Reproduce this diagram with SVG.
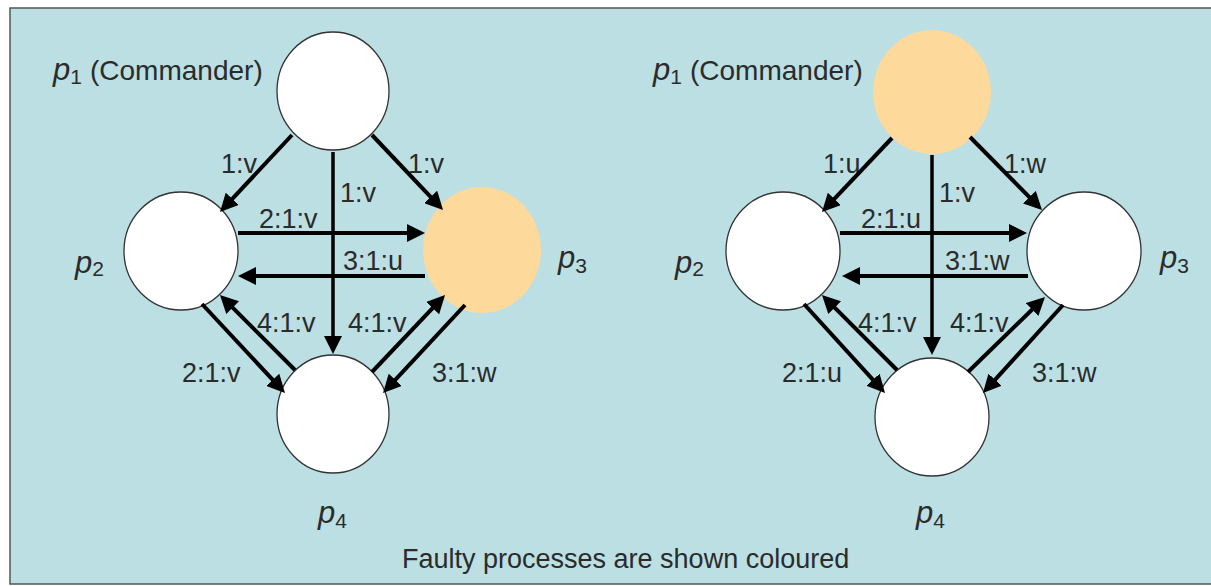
<svg xmlns="http://www.w3.org/2000/svg" width="1211" height="586" viewBox="0 0 1211 586">
  <style>
    .node { fill: #ffffff; stroke: #333333; stroke-width: 1.3; }
    .faulty { fill: #fdd99b; stroke: none; }
    .lbl { font-family: "Liberation Sans", Arial, sans-serif; font-size: 27px; fill: #2b2b2b; }
    .pname { font-family: "Liberation Sans", Arial, sans-serif; fill: #2b2b2b; }
    .conn { stroke: #000000; stroke-width: 4; fill: none; marker-end: url(#arr); }
    .vconn { stroke: #000000; stroke-width: 3.5; fill: none; marker-end: url(#arr); }
  </style>
  <defs>
    <marker id="arr" markerUnits="userSpaceOnUse" markerWidth="18" markerHeight="18" refX="12" refY="9" orient="auto">
      <path d="M0,0 L18,9 L0,18 z" fill="#000000"/>
    </marker>
  </defs>

  <rect x="0" y="0" width="1211" height="586" fill="#ffffff"/>
  <rect id="frame" x="10" y="8" width="1215" height="576" fill="#bbdfe3" stroke="#555555" stroke-width="1.5"/>

  <!-- Left diagram nodes -->
  <g id="L-p1"><ellipse class="node" cx="333" cy="91" rx="56" ry="59"/>
    <text class="pname" x="53" y="80"><tspan font-style="italic" font-size="31">p</tspan><tspan font-size="21" dy="4">1</tspan></text>
    <text class="pname" x="90" y="80" font-size="28">(Commander)</text>
  </g>
  <g id="L-p2"><ellipse class="node" cx="181" cy="251" rx="57" ry="59"/>
    <text class="pname" x="75" y="273"><tspan font-style="italic" font-size="31">p</tspan><tspan font-size="21" dy="3">2</tspan></text>
  </g>
  <g id="L-p3"><ellipse class="faulty" cx="482" cy="250" rx="59" ry="63"/>
    <text class="pname" x="558" y="268"><tspan font-style="italic" font-size="31">p</tspan><tspan font-size="21" dy="5">3</tspan></text>
  </g>
  <g id="L-p4"><ellipse class="node" cx="333" cy="414" rx="56" ry="59"/>
    <text class="pname" x="318" y="523"><tspan font-style="italic" font-size="31">p</tspan><tspan font-size="21" dy="5">4</tspan></text>
  </g>

  <!-- Right diagram nodes -->
  <g id="R-p1"><ellipse class="faulty" cx="932" cy="92" rx="59" ry="62"/>
    <text class="pname" x="653" y="80"><tspan font-style="italic" font-size="31">p</tspan><tspan font-size="21" dy="4">1</tspan></text>
    <text class="pname" x="690" y="80" font-size="28">(Commander)</text>
  </g>
  <g id="R-p2"><ellipse class="node" cx="783" cy="251" rx="57" ry="59"/>
    <text class="pname" x="675" y="273"><tspan font-style="italic" font-size="31">p</tspan><tspan font-size="21" dy="3">2</tspan></text>
  </g>
  <g id="R-p3"><ellipse class="node" cx="1084" cy="251" rx="57" ry="59"/>
    <text class="pname" x="1160" y="268"><tspan font-style="italic" font-size="31">p</tspan><tspan font-size="21" dy="5">3</tspan></text>
  </g>
  <g id="R-p4"><ellipse class="node" cx="932" cy="417" rx="57" ry="59"/>
    <text class="pname" x="916" y="523"><tspan font-style="italic" font-size="31">p</tspan><tspan font-size="21" dy="5">4</tspan></text>
  </g>

  <!-- Connector labels -->
  <g id="labels">
    <text class="lbl" x="221" y="173">1:v</text>
    <text class="lbl" x="340" y="202">1:v</text>
    <text class="lbl" x="408" y="173">1:v</text>
    <text class="lbl" x="259" y="228">2:1:v</text>
    <text class="lbl" x="343" y="270">3:1:u</text>
    <text class="lbl" x="257" y="332">4:1:v</text>
    <text class="lbl" x="348" y="332">4:1:v</text>
    <text class="lbl" x="182" y="382">2:1:v</text>
    <text class="lbl" x="432" y="382">3:1:w</text>

    <text class="lbl" x="823" y="173">1:u</text>
    <text class="lbl" x="939" y="202">1:v</text>
    <text class="lbl" x="1004" y="173">1:w</text>
    <text class="lbl" x="861" y="228">2:1:u</text>
    <text class="lbl" x="945" y="270">3:1:w</text>
    <text class="lbl" x="858" y="332">4:1:v</text>
    <text class="lbl" x="950" y="332">4:1:v</text>
    <text class="lbl" x="782" y="382">2:1:u</text>
    <text class="lbl" x="1032" y="382">3:1:w</text>
  </g>

  <!-- Connectors -->
  <g id="connectors">
    <line class="conn" x1="292" y1="135" x2="224.1" y2="207.6"/>
    <line class="conn" x1="372" y1="135" x2="438.9" y2="205.6"/>
    <line class="vconn" x1="333" y1="152" x2="333" y2="348"/>
    <line class="conn" x1="238" y1="233" x2="419" y2="233"/>
    <line class="conn" x1="425" y1="276" x2="244" y2="276"/>
    <line class="conn" x1="295" y1="370" x2="224.2" y2="299.2"/>
    <line class="conn" x1="202" y1="304" x2="280.9" y2="388.6"/>
    <line class="conn" x1="372" y1="372" x2="440.9" y2="299.4"/>
    <line class="conn" x1="465" y1="305" x2="387.1" y2="388.6"/>

    <line class="conn" x1="892" y1="138" x2="826.1" y2="207.6"/>
    <line class="conn" x1="970" y1="137" x2="1037.8" y2="205.7"/>
    <line class="vconn" x1="932" y1="155" x2="932" y2="349"/>
    <line class="conn" x1="840" y1="233" x2="1021" y2="233"/>
    <line class="conn" x1="1028" y1="276" x2="848" y2="276"/>
    <line class="conn" x1="897" y1="370" x2="826.2" y2="299.2"/>
    <line class="conn" x1="804" y1="304" x2="881" y2="388.6"/>
    <line class="conn" x1="968" y1="372" x2="1040.7" y2="301.2"/>
    <line class="conn" x1="1063" y1="305" x2="987" y2="388.6"/>
  </g>

  <text class="lbl" x="402" y="568">Faulty processes are shown coloured</text>
</svg>
